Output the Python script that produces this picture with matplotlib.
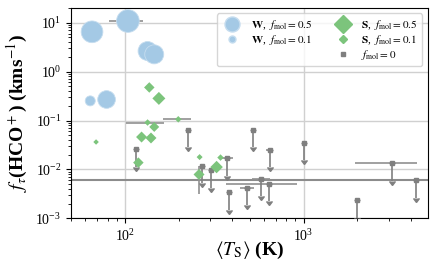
import numpy as np
import matplotlib
matplotlib.use("Agg")
import matplotlib.pyplot as plt
from matplotlib.lines import Line2D

plt.rcParams['font.family'] = ['Liberation Serif', 'DejaVu Serif']
plt.rcParams['mathtext.fontset'] = 'stix'

# W components (blue circles)
w_T = [65.5, 104, 134, 146, 64, 79]
w_tau = [6.5, 10.8, 2.63, 2.25, 0.252, 0.269]
w_size = [244, 267, 187, 187, 52, 162]
w_xlo = [0, 22.5, 0, 0, 0, 0]
w_xhi = [0, 22, 0, 0, 0, 0]

# S components (green diamonds)
s_T = [69, 119, 124, 140, 134, 146, 137, 155, 199, 262, 260, 343, 326]
s_tau = [0.0364, 0.0138, 0.046, 0.044, 0.091, 0.074, 0.474, 0.283, 0.106, 0.0179, 0.0079, 0.0175, 0.0112]
s_width = [5.5, 10.5, 11, 11, 6.5, 10, 10.5, 13, 6.5, 6, 11, 6.5, 12.5]
s_xlo = [0, 0, 0, 0, 33, 0, 0, 0, 35, 0, 0, 0, 0]
s_xhi = [0, 0, 0, 0, 32, 0, 0, 0, 36, 0, 0, 0, 0]
s_ylo = [0, 0, 0, 0, 0, 0, 0, 0, 0, 0, 0.0047, 0, 0]
s_yhi = [0, 0, 0, 0, 0, 0, 0, 0, 0, 0, 0.0036, 0, 0]

# non-detections (upper limits, f_mol = 0)
lim_T = [114.7, 225, 269, 302, 371, 382, 483, 520, 581, 644, 646, 1000, 1986, 3133, 4238]
lim_tau = [0.0258, 0.0655, 0.0119, 0.0096, 0.0171, 0.00344, 0.00424, 0.0655,
           0.00647, 0.00512, 0.0255, 0.0348, 0.00233, 0.0135, 0.00598]
lim_xlo = [0, 0, 0, 0, 24, 0, 40, 0, 66, 278, 29, 0, 0, 1192, 0]
lim_xhi = [0, 0, 0, 0, 31, 0, 43, 0, 65, 275, 22, 0, 0, 1193, 0]

tau_thresh = 0.006

blue = '#a4c9e5'
green = '#7cc47c'
grey = '#7f7f7f'

fig = plt.figure(figsize=(4.36, 2.73), dpi=100)
ax = fig.add_axes([0.163, 0.200, 0.818, 0.771])

ax.axhline(tau_thresh, color='#8c8c8c', lw=1.5, zorder=1)

# horizontal error bars
ax.errorbar(lim_T, lim_tau, xerr=[lim_xlo, lim_xhi], fmt='none', ecolor='#909090', elinewidth=1.2, zorder=2)
ax.errorbar(w_T, w_tau, xerr=[w_xlo, w_xhi], fmt='none', ecolor='#909090', elinewidth=1.2, zorder=2)
ax.errorbar(s_T, s_tau, xerr=[s_xlo, s_xhi], yerr=[s_ylo, s_yhi], fmt='none', ecolor='#909090', elinewidth=1.2, zorder=2)

# upper limit arrows
arrow = 0.56 * np.array(lim_tau)
ax.errorbar(lim_T, lim_tau, yerr=arrow, uplims=True, fmt='s', ms=3, color=grey,
            ecolor=grey, elinewidth=1.2, capsize=2.0, zorder=3)

ax.scatter(w_T, w_tau, s=w_size, marker='o', color=blue, edgecolors='#c6ddef', linewidths=0.6, zorder=4)
s_ms = np.array(s_width) * 0.72 / 1.414
ax.scatter(s_T, s_tau, s=s_ms ** 2, marker='D', color=green, edgecolors='none', zorder=4)

ax.set_xscale('log')
ax.set_yscale('log')
ax.set_xlim(50, 4950)
ax.set_ylim(1e-3, 20)
ax.grid(True, which='major', color='#d0d0d0', lw=1, zorder=0)
ax.set_axisbelow(True)
ax.tick_params(labelsize=10)

ax.set_xlabel(r"$\langle T_\mathrm{S}\rangle$ (K)", fontsize=14, fontweight='bold', labelpad=-3)
ax.set_ylabel(r"$f_{\tau}$(HCO$^+$) (kms$^{-1}$)", fontsize=14, fontweight='bold')

handles = [
    Line2D([], [], ls='none', marker='o', ms=10.8, color=blue, mec='#c6ddef'),
    Line2D([], [], ls='none', marker='o', ms=5, color=blue, mec='#c6ddef'),
    Line2D([], [], ls='none', marker=None),
    Line2D([], [], ls='none', marker='D', ms=8.7, color=green),
    Line2D([], [], ls='none', marker='D', ms=3.6, color=green),
    Line2D([], [], ls='none', marker='s', ms=3, color=grey),
]
labels = [r"$\mathbf{W}$,  $f_\mathrm{mol}=0.5$", r"$\mathbf{W}$,  $f_\mathrm{mol}=0.1$", "",
          r"$\mathbf{S}$,  $f_\mathrm{mol}=0.5$", r"$\mathbf{S}$,  $f_\mathrm{mol}=0.1$", r"$f_\mathrm{mol}=0$"]
ax.legend(handles, labels, ncol=2, loc='upper right', fontsize=8, framealpha=0.8,
          borderpad=0.4, labelspacing=0.08, columnspacing=1.7, handletextpad=0.7)

fig.savefig("out.png", dpi=100)
